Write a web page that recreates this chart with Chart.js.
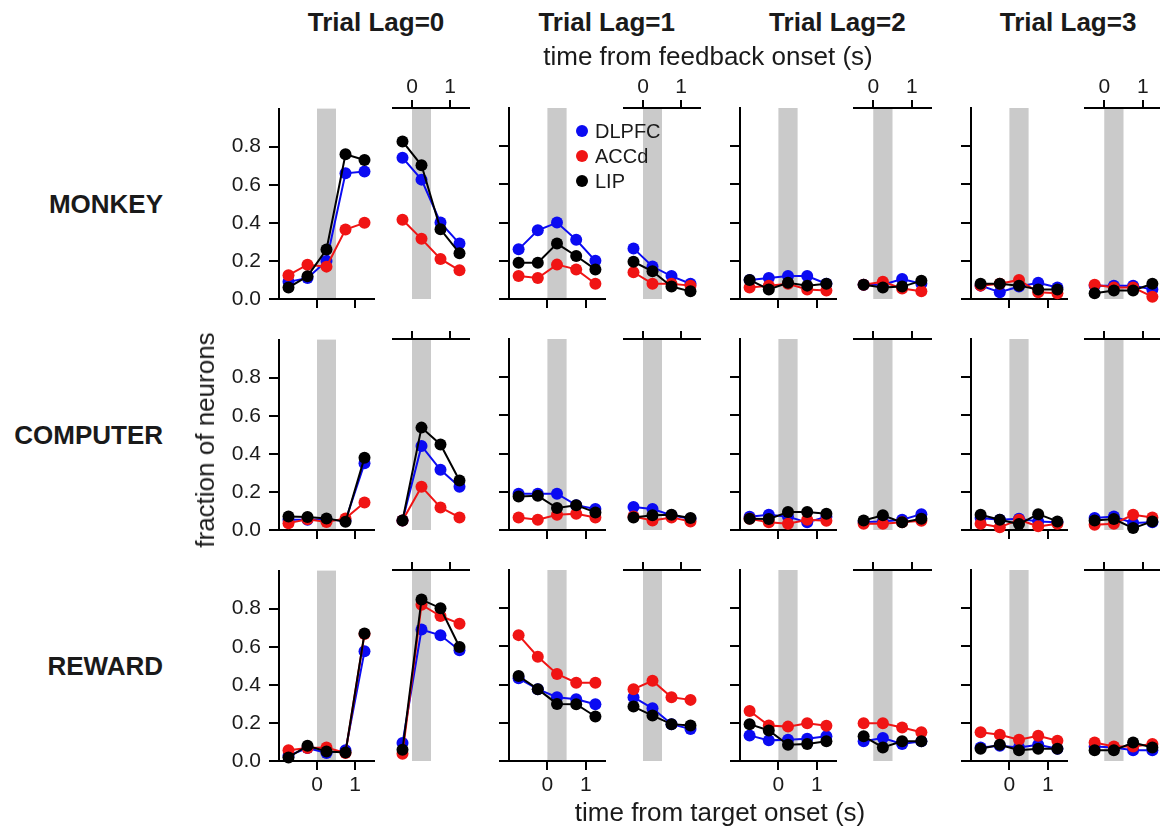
<!DOCTYPE html>
<html><head><meta charset="utf-8">
<script src="https://cdn.jsdelivr.net/npm/chart.js@4/dist/chart.umd.min.js"></script>
<style>
body{margin:0;background:#fff;width:1160px;height:831px;overflow:hidden;position:relative;font-family:"Liberation Sans",Arial,sans-serif;color:#1a1a1a}
.t{position:absolute;white-space:nowrap;line-height:1;transform:translate(-50%,-50%)}
.r{position:absolute;white-space:nowrap;line-height:1;transform:translate(-100%,-50%);font-weight:bold;font-size:26px}
canvas{position:absolute}
.dot{position:absolute;width:12px;height:12px;border-radius:50%;transform:translate(-50%,-50%)}
</style></head><body>
<script>
// ---------- categories / labels ----------
const ROW_LABELS = ['MONKEY','COMPUTER','REWARD'];
const LAG_TITLES = ['Trial Lag=0','Trial Lag=1','Trial Lag=2','Trial Lag=3'];
const SERIES = ['DLPFC','ACCd','LIP'];
const TARGET_TIMES = [-0.75,-0.25,0.25,0.75,1.25];
const FEEDBACK_TIMES = [-0.25,0.25,0.75,1.25];
const Y_TICKS = [0,0.2,0.4,0.6,0.8];
const X_TICKS = [0,1];
const BAND = [0,0.5];

// ---------- values: each array = [lag0, lag1, lag2, lag3] ----------
// MONKEY
const MONKEY_DLPFC_TARGET = [[0.09,0.11,0.20,0.66,0.67],[0.26,0.36,0.40,0.31,0.20],[0.10,0.11,0.12,0.12,0.08],[0.07,0.035,0.065,0.085,0.06]];
const MONKEY_ACCD_TARGET  = [[0.125,0.18,0.17,0.365,0.40],[0.12,0.11,0.18,0.155,0.08],[0.06,0.07,0.08,0.05,0.045],[0.07,0.08,0.10,0.035,0.03]];
const MONKEY_LIP_TARGET   = [[0.06,0.12,0.26,0.76,0.73],[0.19,0.19,0.29,0.225,0.155],[0.10,0.05,0.085,0.07,0.08],[0.08,0.08,0.07,0.05,0.05]];
const MONKEY_DLPFC_FEEDBACK = [[0.74,0.625,0.40,0.29],[0.265,0.17,0.12,0.08],[0.075,0.075,0.105,0.08],[0.07,0.07,0.07,0.05]];
const MONKEY_ACCD_FEEDBACK  = [[0.415,0.315,0.21,0.15],[0.14,0.08,0.08,0.07],[0.075,0.09,0.055,0.04],[0.075,0.06,0.06,0.012]];
const MONKEY_LIP_FEEDBACK   = [[0.825,0.70,0.365,0.24],[0.195,0.145,0.065,0.04],[0.075,0.06,0.065,0.095],[0.03,0.045,0.045,0.08]];
// COMPUTER
const COMPUTER_DLPFC_TARGET = [[0.054,0.054,0.054,0.05,0.35],[0.19,0.19,0.19,0.13,0.11],[0.07,0.08,0.07,0.04,0.07],[0.063,0.054,0.059,0.045,0.04]];
const COMPUTER_ACCD_TARGET  = [[0.036,0.057,0.042,0.061,0.144],[0.066,0.054,0.08,0.085,0.066],[0.059,0.04,0.033,0.054,0.049],[0.033,0.014,0.054,0.019,0.033]];
const COMPUTER_LIP_TARGET   = [[0.071,0.068,0.061,0.043,0.38],[0.176,0.179,0.115,0.13,0.092],[0.059,0.057,0.094,0.094,0.085],[0.08,0.054,0.031,0.083,0.045]];
const COMPUTER_DLPFC_FEEDBACK = [[0.05,0.44,0.315,0.227],[0.12,0.11,0.077,0.059],[0.042,0.045,0.054,0.083],[0.063,0.071,0.037,0.04]];
const COMPUTER_ACCD_FEEDBACK  = [[0.05,0.227,0.118,0.066],[0.071,0.05,0.066,0.045],[0.033,0.033,0.04,0.049],[0.028,0.033,0.08,0.066]];
const COMPUTER_LIP_FEEDBACK   = [[0.05,0.536,0.448,0.259],[0.066,0.077,0.08,0.063],[0.05,0.077,0.04,0.059],[0.05,0.057,0.01,0.045]];
// REWARD
const REWARD_DLPFC_TARGET = [[0.028,0.068,0.042,0.056,0.576],[0.433,0.376,0.334,0.323,0.297],[0.134,0.108,0.111,0.116,0.129],[0.071,0.08,0.071,0.085,0.064]];
const REWARD_ACCD_TARGET  = [[0.056,0.068,0.071,0.042,0.667],[0.659,0.546,0.456,0.41,0.41],[0.262,0.186,0.18,0.198,0.184],[0.151,0.137,0.111,0.132,0.106]];
const REWARD_LIP_TARGET   = [[0.019,0.08,0.05,0.045,0.67],[0.445,0.376,0.299,0.297,0.233],[0.193,0.16,0.085,0.089,0.103],[0.064,0.085,0.056,0.064,0.064]];
const REWARD_DLPFC_FEEDBACK = [[0.094,0.688,0.658,0.58],[0.334,0.276,0.193,0.167],[0.103,0.12,0.089,0.103],[0.076,0.071,0.056,0.056]];
const REWARD_ACCD_FEEDBACK  = [[0.038,0.818,0.759,0.719],[0.376,0.42,0.334,0.32],[0.198,0.198,0.175,0.151],[0.097,0.076,0.076,0.089]];
const REWARD_LIP_FEEDBACK   = [[0.059,0.845,0.8,0.597],[0.285,0.238,0.193,0.186],[0.129,0.071,0.103,0.103],[0.056,0.056,0.097,0.071]];

const PANEL_DATA = [
  {target:[MONKEY_DLPFC_TARGET,MONKEY_ACCD_TARGET,MONKEY_LIP_TARGET], feedback:[MONKEY_DLPFC_FEEDBACK,MONKEY_ACCD_FEEDBACK,MONKEY_LIP_FEEDBACK]},
  {target:[COMPUTER_DLPFC_TARGET,COMPUTER_ACCD_TARGET,COMPUTER_LIP_TARGET], feedback:[COMPUTER_DLPFC_FEEDBACK,COMPUTER_ACCD_FEEDBACK,COMPUTER_LIP_FEEDBACK]},
  {target:[REWARD_DLPFC_TARGET,REWARD_ACCD_TARGET,REWARD_LIP_TARGET], feedback:[REWARD_DLPFC_FEEDBACK,REWARD_ACCD_FEEDBACK,REWARD_LIP_FEEDBACK]}
];

// ---------- styles / layout ----------
const COLORS = ['#0b0bf2','#f01414','#000000'];
const DRAW_ORDER = [2,1,0];   // LIP on top, then ACCd, DLPFC at bottom
const BAND_COLOR = '#cacaca';
const INK = '#1a1a1a';
const FONT = 'Liberation Sans, Arial, sans-serif';
const PX_PER_S = 38.3, LAG_DX = 230.7, ROW_DY = 231, UNIT_H = 191.5;

const bandPlugin = {
  id:'band',
  beforeDraw(chart){
    const {ctx, chartArea:a, scales:{x}} = chart;
    const x0 = x.getPixelForValue(BAND[0]), x1 = x.getPixelForValue(BAND[1]);
    ctx.save(); ctx.fillStyle = BAND_COLOR;
    ctx.fillRect(x0, a.top, x1-x0, a.bottom-a.top);
    ctx.restore();
  }
};

function geom(row, lag, side){
  const zero = (side==='target'?317:412) + LAG_DX*lag;
  const xmin = side==='target' ? -1 : -0.5, xmax = 1.5;
  const left = Math.round(zero + xmin*PX_PER_S), right = Math.round(zero + xmax*PX_PER_S);
  const bottom = Math.round(299 + ROW_DY*row), top = Math.round(299 + ROW_DY*row - UNIT_H);
  return {left,right,top,bottom,xmin,xmax};
}

function makePanel(row, lag, side){
  const g = geom(row, lag, side);
  const isT = side==='target';
  const PL = isT?70:16, PR = 16, PT = isT?20:44, PB = isT?44:16;
  const cv = document.createElement('canvas');
  const W = g.right-g.left+PL+PR, H = g.bottom-g.top+PT+PB;
  cv.width = W; cv.height = H;
  cv.style.left = (g.left-PL)+'px'; cv.style.top = (g.top-PT)+'px';
  cv.style.width = W+'px'; cv.style.height = H+'px';
  document.body.appendChild(cv);
  const times = isT ? TARGET_TIMES : FEEDBACK_TIMES;
  const src = PANEL_DATA[row][side];
  const datasets = SERIES.map((name,s)=>({
    label:name,
    data: times.map((t,i)=>({x:t, y:src[s][lag][i]})),
    borderColor:COLORS[s], backgroundColor:COLORS[s],
    pointBackgroundColor:COLORS[s], pointBorderColor:COLORS[s],
    pointBorderWidth:0, pointRadius:6, borderWidth:2, tension:0,
    order:DRAW_ORDER[s], clip:false
  }));
  const axisLine = {display:true, color:'#000', width:2};
  const tickFont = {family:FONT, size:21};
  const showX = isT ? row===2 : row===0;
  new Chart(cv, {
    type:'line',
    data:{datasets},
    options:{
      responsive:false, animation:false, events:[], devicePixelRatio:1,
      layout:{padding:{left:isT?0:PL, right:PR, top:isT?PT:0, bottom:isT?0:PB}},
      plugins:{legend:{display:false}, tooltip:{enabled:false}},
      scales:{
        x:{
          type:'linear', min:g.xmin, max:g.xmax, position:isT?'bottom':'top',
          afterBuildTicks:s=>{ s.ticks = X_TICKS.map(v=>({value:v})); },
          afterFit:s=>{ s.height = isT?PB:PT; },
          border:axisLine,
          grid:{display:true, drawOnChartArea:false, drawTicks:true, tickLength:isT?9:8, lineWidth:2, tickWidth:2, tickColor:'#000', color:'#000'},
          ticks:{display:showX, font:tickFont, color:INK, padding:isT?3:0, maxRotation:0, callback:v=>String(v)}
        },
        y:{
          type:'linear', min:0, max:1, display:isT,
          afterBuildTicks:s=>{ s.ticks = Y_TICKS.map(v=>({value:v})); },
          afterFit:s=>{ s.width = isT?PL:0; },
          border:axisLine,
          grid:{display:true, drawOnChartArea:false, drawTicks:true, tickLength:10, lineWidth:2, tickWidth:2, tickColor:'#000', color:'#000'},
          ticks:{display:lag===0, font:tickFont, color:INK, padding:8, callback:v=>Number(v).toFixed(1)}
        }
      }
    },
    plugins:[bandPlugin]
  });
}

for (let r=0;r<3;r++) for (let l=0;l<4;l++){ makePanel(r,l,'target'); makePanel(r,l,'feedback'); }

// ---------- text ----------
function text(str, x, y, size, bold, cls){
  const d = document.createElement('div');
  d.className = cls || 't';
  d.textContent = str;
  d.style.left = x+'px'; d.style.top = y+'px';
  d.style.fontSize = size+'px';
  if (bold) d.style.fontWeight = 'bold';
  document.body.appendChild(d);
  return d;
}
LAG_TITLES.forEach((s,i)=>text(s, 376+LAG_DX*i, 22, 26, true));
text('time from feedback onset (s)', 708, 56, 26, false);
text('time from target onset (s)', 720, 812, 26, false);
ROW_LABELS.forEach((s,i)=>text(s, 163, 204+ROW_DY*i, 26, true, 'r'));
const yl = text('fraction of neurons', 205, 440, 26, false);
yl.style.transform = 'translate(-50%,-50%) rotate(-90deg)';

// legend
const LEGEND_Y = [131,156,181];
SERIES.forEach((s,i)=>{
  const dot = document.createElement('div');
  dot.className='dot'; dot.style.background = COLORS[i];
  dot.style.left='582px'; dot.style.top=LEGEND_Y[i]+'px';
  document.body.appendChild(dot);
  const d = text(s, 595, LEGEND_Y[i], 20, false);
  d.style.transform='translate(0,-50%)';
});
</script>
</body></html>
